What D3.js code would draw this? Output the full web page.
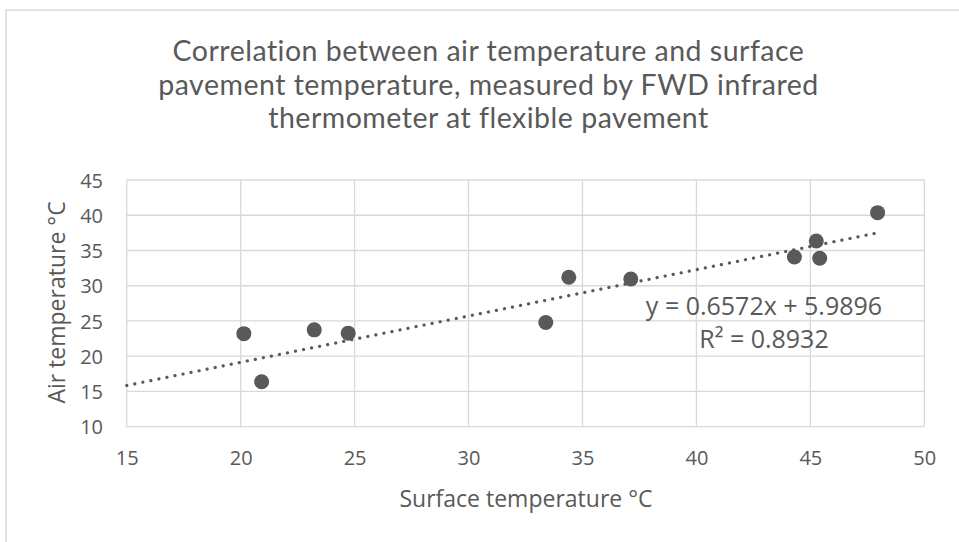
<!DOCTYPE html>
<html>
<head>
<meta charset="utf-8">
<script src="https://cdn.jsdelivr.net/npm/d3@7"></script>
<style>
  html, body { margin: 0; padding: 0; background: #fff; }
  svg { display: block; }
  text { font-family: "Open Sans", sans-serif; fill: #595959; }
</style>
</head>
<body>
<svg id="chart" width="959" height="542"></svg>
<script>
// ---- data ----
const surfaceTemp = [20.14, 20.92, 23.23, 24.72, 33.39, 34.40, 37.12, 44.30, 45.26, 45.41, 47.95];
const airTemp     = [23.20, 16.37, 23.74, 23.27, 24.79, 31.20, 30.96, 34.08, 36.35, 33.90, 40.37];
const xTicks = [15, 20, 25, 30, 35, 40, 45, 50];
const yTicks = [10, 15, 20, 25, 30, 35, 40, 45];
const trendSlope = 0.6572;
const trendIntercept = 5.9896;
const trendStart = 15;
const equationText = "y = 0.6572x + 5.9896";
const r2Text = "R² = 0.8932";
const titleLines = [
  "Correlation between air temperature and surface",
  "pavement temperature, measured by FWD infrared",
  "thermometer at flexible pavement"
];
const xTitle = "Surface temperature °C";
const yTitle = "Air temperature °C";

// ---- layout ----
const svg = d3.select("#chart");
const x = d3.scaleLinear().domain([15, 50]).range([126.7, 924.3]);
const y = d3.scaleLinear().domain([10, 45]).range([426.7, 180]);
const gridColor = "#d9d9d9";
const markColor = "#595959";

// chart border
svg.append("rect")
  .attr("x", 6).attr("y", 10).attr("width", 980).attr("height", 560)
  .attr("fill", "none").attr("stroke", gridColor).attr("stroke-width", 1.5);

// title
svg.append("g").selectAll("text").data(titleLines).join("text")
  .attr("x", 488.5).attr("y", (d, i) => 61 + i * 33.5)
  .attr("text-anchor", "middle")
  .style("font-family", "Lato, sans-serif")
  .style("font-size", "28.5px")
  .style("letter-spacing", "0.5px")
  .style("font-variant-ligatures", "none")
  .text(d => d);

// gridlines
const grid = svg.append("g");
grid.selectAll("line.v").data(xTicks).join("line").attr("class", "v")
  .attr("x1", d => x(d)).attr("x2", d => x(d))
  .attr("y1", y(10)).attr("y2", y(45))
  .attr("stroke", gridColor).attr("stroke-width", 1.3);
grid.selectAll("line.h").data(yTicks).join("line").attr("class", "h")
  .attr("y1", d => y(d)).attr("y2", d => y(d))
  .attr("x1", x(15)).attr("x2", x(50))
  .attr("stroke", gridColor).attr("stroke-width", 1.3);

// axes (labels via d3 axis)
const xAxis = svg.append("g")
  .attr("transform", `translate(0,${y(10)})`)
  .call(d3.axisBottom(x).tickValues(xTicks).tickSize(0).tickPadding(0).tickFormat(d3.format("d")));
xAxis.select(".domain").remove();
xAxis.selectAll("text")
  .attr("y", 38.5).attr("dy", null)
  .style("font-size", "20px").style("font-family", "'Open Sans', sans-serif").attr("fill", "#595959");

const yAxis = svg.append("g")
  .attr("transform", `translate(103,0)`)
  .call(d3.axisLeft(y).tickValues(yTicks).tickSize(0).tickPadding(0).tickFormat(d3.format("d")));
yAxis.select(".domain").remove();
yAxis.selectAll("text")
  .attr("x", 0).attr("dy", "0.36em")
  .style("font-size", "20px").style("font-family", "'Open Sans', sans-serif").attr("fill", "#595959");

// axis titles
svg.append("text")
  .attr("x", 526).attr("y", 506.7)
  .attr("text-anchor", "middle")
  .style("font-size", "23px")
  .text(xTitle);
svg.append("text")
  .attr("transform", "translate(65,302.5) rotate(-90)")
  .attr("text-anchor", "middle")
  .style("font-size", "23px")
  .text(yTitle);

// trendline
const trendEnd = d3.max(surfaceTemp);
const trendData = [trendStart, trendEnd].map(v => [v, trendSlope * v + trendIntercept]);
svg.append("path")
  .datum(trendData)
  .attr("d", d3.line().x(d => x(d[0])).y(d => y(d[1])))
  .attr("fill", "none")
  .attr("stroke", markColor)
  .attr("stroke-width", 3.2)
  .attr("stroke-linecap", "round")
  .attr("stroke-dasharray", "0.1 8.1");

// points
const pts = surfaceTemp.map((v, i) => [v, airTemp[i]]);
svg.append("g").selectAll("circle").data(pts).join("circle")
  .attr("cx", d => x(d[0])).attr("cy", d => y(d[1]))
  .attr("r", 7.5)
  .attr("fill", markColor);

// equation label
const eq = svg.append("g");
eq.append("text").attr("x", 764).attr("y", 315)
  .attr("text-anchor", "middle").style("font-size", "25px").text(equationText);
eq.append("text").attr("x", 764).attr("y", 347.7)
  .attr("text-anchor", "middle").style("font-size", "25px").text(r2Text);
</script>
</body>
</html>
